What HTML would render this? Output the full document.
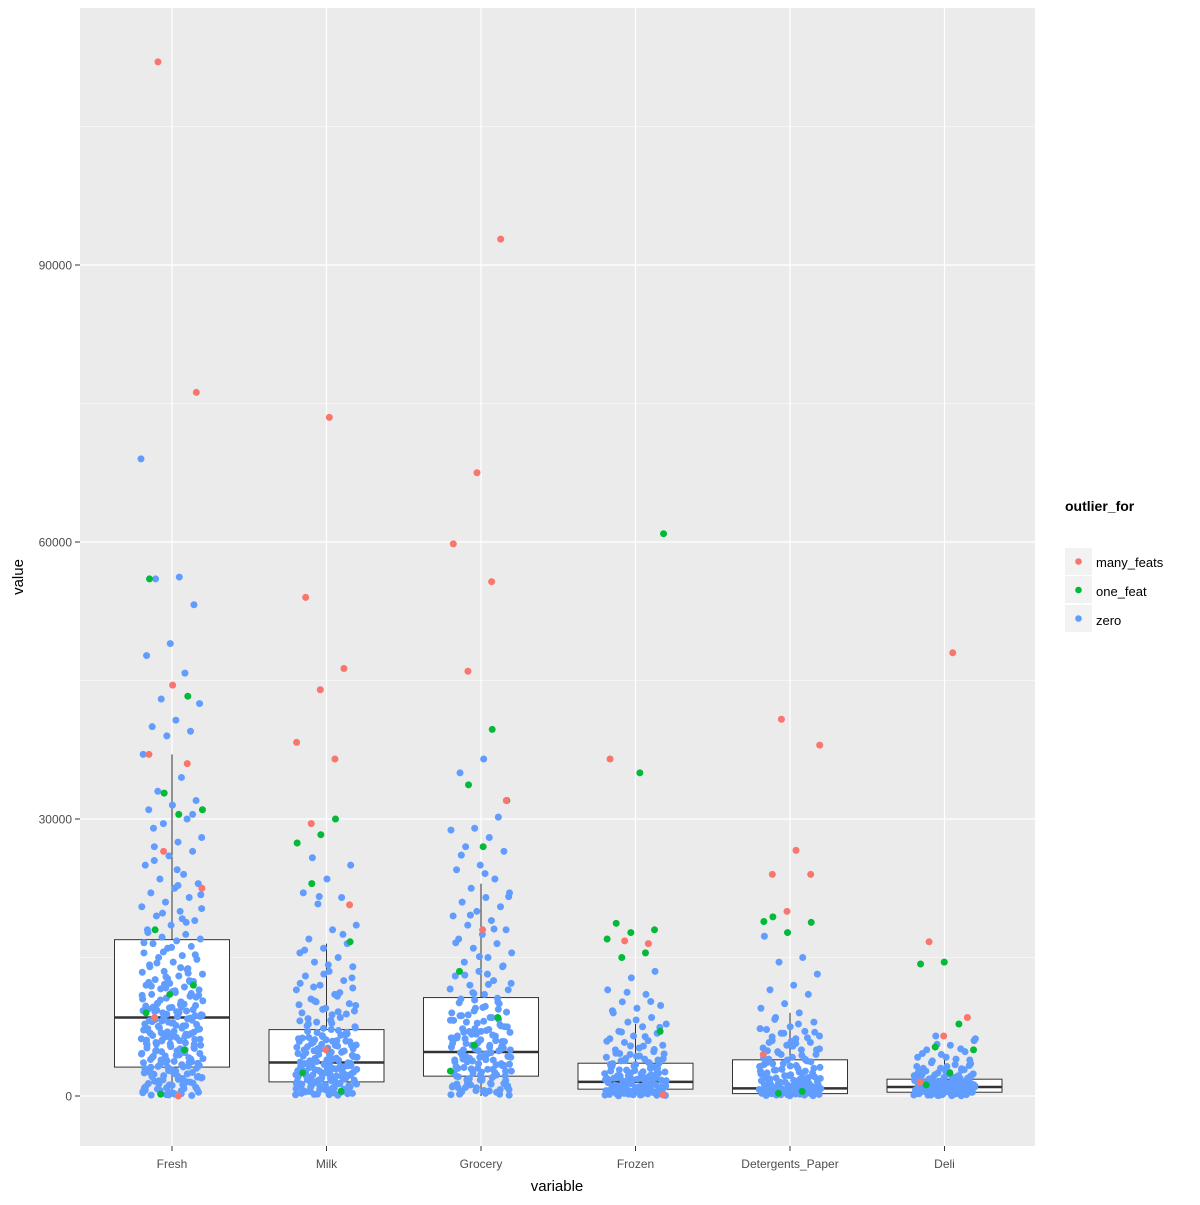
<!DOCTYPE html>
<html><head><meta charset="utf-8"><title>Outlier boxplot by variable</title>
<style>
body{margin:0;background:#fff;}
svg text{font-family:"Liberation Sans",Arial,sans-serif;}
</style></head>
<body>
<svg id="chart" width="1200" height="1200" xmlns="http://www.w3.org/2000/svg">
<rect x="0" y="0" width="1200" height="1200" fill="#fff"/>
<rect x="80" y="8" width="955" height="1138" fill="#EBEBEB"/>
<g id="grid"></g>
<g id="boxes"></g>
<g id="points"></g>
<g id="axes"></g>
<g id="legend">
<text x="1065" y="511" font-size="14" font-weight="bold" fill="#000">outlier_for</text>
<rect x="1065" y="548" width="27" height="27" fill="#F2F2F2"/>
<circle cx="1078.5" cy="561.5" r="3.3" fill="#F8766D"/>
<text x="1096" y="567" font-size="13" fill="#000">many_feats</text>
<rect x="1065" y="576" width="27" height="27" fill="#F2F2F2"/>
<circle cx="1078.5" cy="590" r="3.3" fill="#00BA38"/>
<text x="1096" y="596" font-size="13" fill="#000">one_feat</text>
<rect x="1065" y="605" width="27" height="27" fill="#F2F2F2"/>
<circle cx="1078.5" cy="618.5" r="3.3" fill="#619CFF"/>
<text x="1096" y="625" font-size="13" fill="#000">zero</text>
</g>
</svg>
<script>
const categories = ["Fresh","Milk","Grocery","Frozen","Detergents_Paper","Deli"];
const yTicks = [0,30000,60000,90000];
const yMinor = [15000,45000,75000,105000];
// box stats: [lowerWhisker, q1, median, q3, upperWhisker]
const boxStats = [
 [3,3130,8500,16930,37000],
 [55,1530,3630,7190,16500],
 [3,2150,4760,10660,23000],
 [25,740,1530,3550,7800],
 [3,260,820,3920,9000],
 [3,410,970,1820,3900]
];
const redVals = [
 [112000,76200,44500,37000,36000,26500,22500,0,8500],
 [73500,54000,46300,44000,38300,36500,29500,20700,5000],
 [92800,67500,59800,55700,46000,32000,18000],
 [36500,16500,16800,100],
 [40800,38000,26600,24000,24000,20000,4500],
 [48000,16700,8500,6500,1500]
];
const greenVals = [
 [56000,43300,32800,31000,30500,18000,12000,11000,9000,5000,200],
 [28300,27400,30000,23000,16700,5000,2500,500],
 [39700,33700,32000,27000,13500,8500,5500,2700],
 [60900,35000,18700,18000,17700,17000,15500,15000,7000],
 [19400,18800,17700,18900,500,300],
 [14500,14300,7800,5300,5000,2500,1200]
];
const blueVals = [
 [69000,56200,56000,53200,49000,47700,45800,43000,42500,40700,40000,39500,39000,37000,34500,33000,32000,31500,31000,30000,29500,28000,27500,27000,26500,26000,25000,24000,23500,23000,22500,22000,21500,21000,20500,20000,19500,19000,18500,18000,17500,17200,17000,16800,16500,16200,16000,15500,15200,15000,14800,14500,14200,13800,13500,13200,13000,12600,12400,12200,12000,11800,11600,11500,11200,11000,10800,10600,10500,10200,10000,9800,9600,9400,9200,9000,8800,8600,8400,8200,8000,7800,7600,7400,7200,7000,6800,6600,6400,6200,6000,5800,5600,5400,5200,5000,4800,4600,4400,4200,4000,3800,3600,3400,3200,3000,2800,2600,2400,2200,2000,1800,1600,1400,1200,1000,800,600,400,200,100,12500,11700,10900,9900,9300,8700,7900,7300,6700,6100,5500,4900,4300,3700,3100,2500,1900,1300,700,300,14000,13300,12100,10300,9100,8300,6900,6300,5700,4700,3900,3300,2700,2100,1500,900,500,250],
 [25800,25000,23500,22000,21500,20800,18500,18000,17000,16500,16000,15500,15000,14500,14000,13500,13000,12500,12000,11500,11000,10500,10000,9500,9000,8500,8000,7500,7200,7000,6800,6500,6200,6000,5800,5500,5200,5000,4800,4500,4200,4000,3800,3600,3400,3200,3000,2800,2600,2400,2200,2000,1800,1600,1400,1200,1000,800,600,400,200,9800,8800,7800,6900,6400,5900,5400,4900,4400,3900,3500,3100,2700,2300,1900,1500,1100,700,300,11200,10200,9200,8200,7600,6600,5600,4600,4100,3700,3300,2900,2500,2100,1700,1300,900,500,250,13200,12200,7100,6100,5100,3450,2650,1850,1050],
 [36500,35000,30200,29000,28800,28000,27000,26500,25000,24500,23500,22500,22000,21500,21000,20500,20000,19500,19000,18500,18000,17500,17000,16500,16000,15500,15000,14500,14000,13500,13000,12500,12000,11500,11000,10500,10000,9500,9000,8500,8000,7500,7000,6500,6000,5500,5000,4500,4000,3500,3000,2500,2000,1500,1000,500,200,10200,9200,8200,7200,6200,5200,4200,3200,2200,1200,700,9700,8700,7700,6700,5700,4700,3700,2700,1700,900,400,11200,12200,13200,6900,5900,4900,3900,2900,1900,1100,600,300,8300,7300,6300,5300,4300,3300,2300,1300],
 [13500,12800,11500,11000,10200,9800,9500,9000,8500,8000,7800,7500,7000,6800,6500,6200,6000,5800,5500,5200,5000,4800,4500,4200,4000,3800,3600,3400,3200,3000,2800,2600,2400,2200,2000,1800,1600,1400,1200,1000,800,600,400,200,100,5400,4600,3900,3300,2700,2100,1500,900,500,300,3100,2500,1900,1300,700,350,4300,3500,2300,1700,1100,650,250,150],
 [17300,15000,14500,13200,12000,11500,11000,10000,9500,9000,8500,8000,7500,7200,7000,6800,6500,6200,6000,5800,5500,5200,5000,4800,4500,4200,4000,3800,3500,3200,3000,2800,2500,2200,2000,1800,1500,1200,1000,800,600,400,300,200,100,6900,5900,4900,3900,2900,1900,900,500,250,150,3400,2400,1400,700,350,1600,1100,450,2700,1300,550],
 [6500,6000,5500,5000,4800,4500,4200,4000,3800,3500,3200,3000,2800,2500,2200,2000,1800,1600,1400,1200,1000,900,800,700,600,500,400,300,200,100,3300,2700,2300,1900,1500,1100,750,450,250,150,2600,2100,1700,1300,950,650,350,50]
];
const blueValsExtra = [
 [150,350,550,750,950,1150,1350,1550,1750,1950,2150,2350,2550,2750,2950,3150,3350,3550,3750,3950,4150,4350,4550,4750,4950,5150,5350,5550,5750,5950,6150,6350,6550,6750,6950,7150,7350,7550,7750,7950,8150,8350,8550,8750,8950,9150,9350,9550,9750,9950,10400,10900,11400,11900,12400,12900,13400,13900,14400,15300,16100,17700,18800,19800,21800,24500,29000,50,450,850,1250,1650,2050,2450,2850,3250,3650,4050,4450,4850,5250,5650,6050,6450,6850,7250,7650,8050,8450,8850,9250,9650,10050,10700,11300,12300,13700,15600,20300,22800,25500,30500,120,620,1120,1620,2120,2620,3120,3620,4120,4620,5120,5620,6120,6620,7120,7620,8120,8620,9120,9620,11100,12700,16600,19200],
 [80,180,280,380,480,580,680,780,880,980,1080,1180,1280,1380,1480,1580,1680,1780,1880,1980,2080,2180,2280,2380,2480,2580,2680,2780,2880,2980,3080,3280,3480,3680,3880,4080,4280,4480,4680,4880,5080,5280,5480,5680,5880,6080,6280,6580,6880,7380,7880,8380,8880,9380,9880,10800,11800,12800,14200,15800,17500,21600,130,330,530,730,930,1130,1330,1530,1730,1930,2130,2330,2530,2730,2930,3130,3530,3930,4330,4730,5130,5530,5930,6330,6730,7330,8130,9130,10300,11700,140,440,740,1040,1340,1640,1940,2240,2540,2840,3240,3740,4240,4740,5340,5940,6540],
 [90,290,490,690,890,1090,1290,1490,1690,1890,2090,2290,2490,2690,2890,3090,3290,3490,3690,3890,4090,4290,4490,4690,4890,5090,5290,5490,5690,5890,6090,6290,6490,6690,6890,7090,7290,7590,7890,8190,8490,8790,9090,9590,10090,10590,11090,11590,12090,13090,14090,15090,16590,18090,19590,21590,24090,26090,190,590,990,1390,1790,2190,2590,2990,3390,3790,4190,4590,4990,5390,5790,6190,6590,6990,7490,8090,8690,9390,10390,140,540,940,1340,1740,2140,2540,2940,3440,3940,4440,5040,5640,6240],
 [30,80,130,180,230,280,330,380,430,480,530,580,630,680,730,780,830,880,930,980,1030,1130,1230,1330,1430,1530,1630,1730,1830,1930,2030,2230,2430,2630,2830,3030,3230,3430,3630,3830,4030,4330,4630,5030,5430,5930,6430,6930,7430,8230,9230,10230,11230,60,160,260,360,460,560,660,760,860,960,1160,1360,1560,1760,1960,2160,2460,2760,3160,3560,4060,4560,110,210,310,410,510,610,710,810,910,1060,1260,1460,1660,1860,2060,2560],
 [20,60,100,140,180,220,260,300,340,380,420,460,500,540,580,620,660,700,740,780,820,860,900,950,1000,1100,1200,1300,1400,1500,1650,1800,1950,2100,2300,2500,2700,2900,3100,3300,3500,3700,3900,4100,4400,4700,5000,5400,5800,6300,6800,7300,7800,8300,40,80,120,160,200,240,280,320,360,400,440,480,520,560,600,650,700,750,800,880,960,1050,1150,1250,1350,1450,1550,1700,1850,2000,2200,2400,2600,2800,3000,3250,3600,4000,4500,5100,5700,6400],
 [30,70,110,150,190,230,270,310,350,390,430,470,510,550,590,630,670,710,750,790,830,870,910,960,1010,1060,1110,1160,1210,1260,1310,1360,1420,1480,1540,1600,1680,1760,1840,1920,2000,2100,2200,2300,2400,2550,2700,2850,3000,3200,3400,3600,3900,4200,4600,5100,5600,6200,40,90,140,190,240,290,340,390,440,490,540,600,660,720,780,840,900,970,1040,1120,1200,1280,1380,1480,1580,1700,1820,1950,2150,2350,2650,2950]
];
const X0=80, PANELW=955, step=154.5;
function xScale(i){return 172 + i*step;}
function yScale(v){return 1096 - v*(277/30000);}
const NS="http://www.w3.org/2000/svg";
function mk(tag,attrs,parent){const e=document.createElementNS(NS,tag);for(const k in attrs)e.setAttribute(k,attrs[k]);parent.appendChild(e);return e;}
const grid=document.getElementById('grid'), boxes=document.getElementById('boxes'), pts=document.getElementById('points'), axes=document.getElementById('axes');
yMinor.forEach(v=>{const l=mk('line',{x1:80,x2:1035,y1:yScale(v),y2:yScale(v),stroke:'#fff','stroke-width':0.6},grid);

});
yTicks.forEach(v=>{const l=mk('line',{x1:80,x2:1035,y1:yScale(v),y2:yScale(v),stroke:'#fff','stroke-width':1.2},grid);


mk('line',{x1:75,x2:80,y1:yScale(v),y2:yScale(v),stroke:'#333','stroke-width':1},axes);
const tx=mk('text',{x:72,y:yScale(v)+4.5,'font-size':12,fill:'#4D4D4D','text-anchor':'end'},axes);tx.textContent=v;

});
categories.forEach((c,i)=>{const x=xScale(i);
const l=mk('line',{x1:x,x2:x,y1:8,y2:1146,stroke:'#fff','stroke-width':1.2},grid);


mk('line',{x1:x,x2:x,y1:1146,y2:1151,stroke:'#333','stroke-width':1},axes);
const tx=mk('text',{x:x,y:1168,'font-size':12,fill:'#4D4D4D','text-anchor':'middle'},axes);tx.textContent=c;


const s=boxStats[i], hw=57.5;
const g=mk('g',{},boxes);


mk('line',{x1:x,x2:x,y1:yScale(s[4]),y2:yScale(s[3]),stroke:'#333','stroke-width':1},g);
mk('line',{x1:x,x2:x,y1:yScale(s[1]),y2:yScale(s[0]),stroke:'#333','stroke-width':1},g);
mk('rect',{x:x-hw,y:yScale(s[3]),width:2*hw,height:yScale(s[1])-yScale(s[3]),fill:'#fff',stroke:'#333','stroke-width':1},g);
mk('line',{x1:x-hw,x2:x+hw,y1:yScale(s[2]),y2:yScale(s[2]),stroke:'#333','stroke-width':2.5},g);
});
function jit(i,ci,k){const f=((i*0.6180339+ci*0.2718+k*0.137)%1);return (f-0.5)*2*31;}
const groups=[[blueVals,'#619CFF','zero',0],[blueValsExtra,'#619CFF','zero',3],[greenVals,'#00BA38','one_feat',1],[redVals,'#F8766D','many_feats',2]];
groups.forEach(([arr,col,nm,k])=>{arr.forEach((vals,ci)=>{vals.forEach((v,i)=>{
const c=mk('circle',{cx:xScale(ci)+jit(i,ci,k),cy:yScale(v),r:3.5,fill:col},pts);

});});});
const yt=mk('text',{x:0,y:0,'font-size':15,fill:'#000','text-anchor':'middle',transform:'translate(23,577) rotate(-90)'},axes);yt.textContent='value';


const xt=mk('text',{x:557,y:1191,'font-size':15,fill:'#000','text-anchor':'middle'},axes);xt.textContent='variable';


</script>
</body></html>
